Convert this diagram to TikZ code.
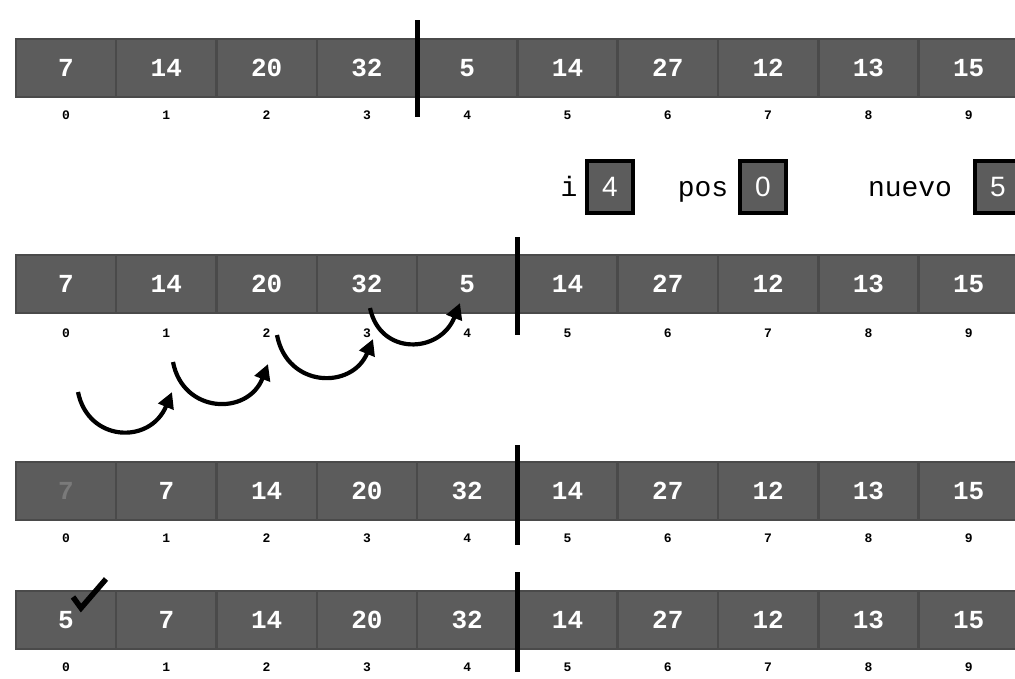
\documentclass[tikz,border=0pt]{standalone}
\usepackage{fontspec}
\setmonofont{Liberation Mono}
\setsansfont{Liberation Sans}
\usepackage{tikz}
\usetikzlibrary{positioning,arrows.meta}

\definecolor{cellgray}{HTML}{5C5C5C}
\definecolor{celledge}{HTML}{4A4A4A}
\definecolor{fadegray}{HTML}{7A7A7A}

\begin{document}
\begin{tikzpicture}[x=1pt, y=-1pt,
  cell/.style={rectangle, fill=cellgray, draw=celledge, line width=2.5pt, minimum width=100.3pt, minimum height=58pt, inner sep=0pt, text=white, font=\ttfamily\bfseries\fontsize{26}{26}\selectfont},
  idx/.style={font=\ttfamily\bfseries\fontsize{13}{13}\selectfont, inner sep=0pt},
  varbox/.style={rectangle, fill=cellgray, draw=black, line width=3.5pt, minimum width=46pt, minimum height=52pt, inner sep=0pt, text=white, font=\sffamily\fontsize{28}{28}\selectfont},
  varlabel/.style={font=\ttfamily\fontsize{28}{28}\selectfont, inner sep=0pt, anchor=base},
  divider/.style={line width=5pt},
  shiftarrow/.style={-{Triangle[length=16pt, width=16pt]}, line width=4.2pt}
]
  \useasboundingbox (0,0) rectangle (1015,678);

  % row 1: before the step
  \foreach \v [count=\i from 0] in {7,14,20,32,5,14,27,12,13,15} {
    \node[cell] (a\i) at (66+100.3*\i, 68) {\v};
    \node[idx] (ai\i) at (66+100.3*\i, 115) {\i};
  }
  \draw[divider] (417,20) -- (417,117);

  % variables
  \node[varlabel] (li) at (569,196) {i};
  \node[varbox] (vi) at (610,187) {4};
  \node[varlabel] (lpos) at (703,196) {pos};
  \node[varbox] (vpos) at (763,187) {0};
  \node[varlabel] (lnuevo) at (910,196) {nuevo};
  \node[varbox] (vnuevo) at (998,187) {5};

  % row 2: shifting
  \foreach \v [count=\i from 0] in {7,14,20,32,5,14,27,12,13,15} {
    \node[cell] (b\i) at (66+100.3*\i, 284) {\v};
    \node[idx] (bi\i) at (66+100.3*\i, 333) {\i};
  }
  \draw[divider] (517,237) -- (517,335);

  \coordinate (s0) at (78,392);  \coordinate (e0) at (172,392);
  \coordinate (s1) at (173,362); \coordinate (e1) at (268,364);
  \coordinate (s2) at (277,335); \coordinate (e2) at (373,339);
  \coordinate (s3) at (370,308); \coordinate (e3) at (460,303);
  \draw[shiftarrow] (s0) .. controls (88,442) and (150,445) .. (e0);
  \draw[shiftarrow] (s1) .. controls (183,414) and (248,416) .. (e1);
  \draw[shiftarrow] (s2) .. controls (287,388) and (352,390) .. (e2);
  \draw[shiftarrow] (s3) .. controls (380,356) and (440,354) .. (e3);

  % row 3: after shifting
  \node[cell, text=fadegray] (c0) at (66, 491) {7};
  \node[idx] (ci0) at (66, 538) {0};
  \foreach \v [count=\i from 1] in {7,14,20,32,14,27,12,13,15} {
    \node[cell] (c\i) at (66+100.3*\i, 491) {\v};
    \node[idx] (ci\i) at (66+100.3*\i, 538) {\i};
  }
  \draw[divider] (517,445) -- (517,545);

  % row 4: inserted
  \foreach \v [count=\i from 0] in {5,7,14,20,32,14,27,12,13,15} {
    \node[cell] (d\i) at (66+100.3*\i, 620) {\v};
    \node[idx] (di\i) at (66+100.3*\i, 667) {\i};
  }
  \draw[divider] (517,572) -- (517,672);
  \draw[line width=5.5pt, line join=miter] (73,597) -- (81,608) -- (106,579);
\end{tikzpicture}
\end{document}
